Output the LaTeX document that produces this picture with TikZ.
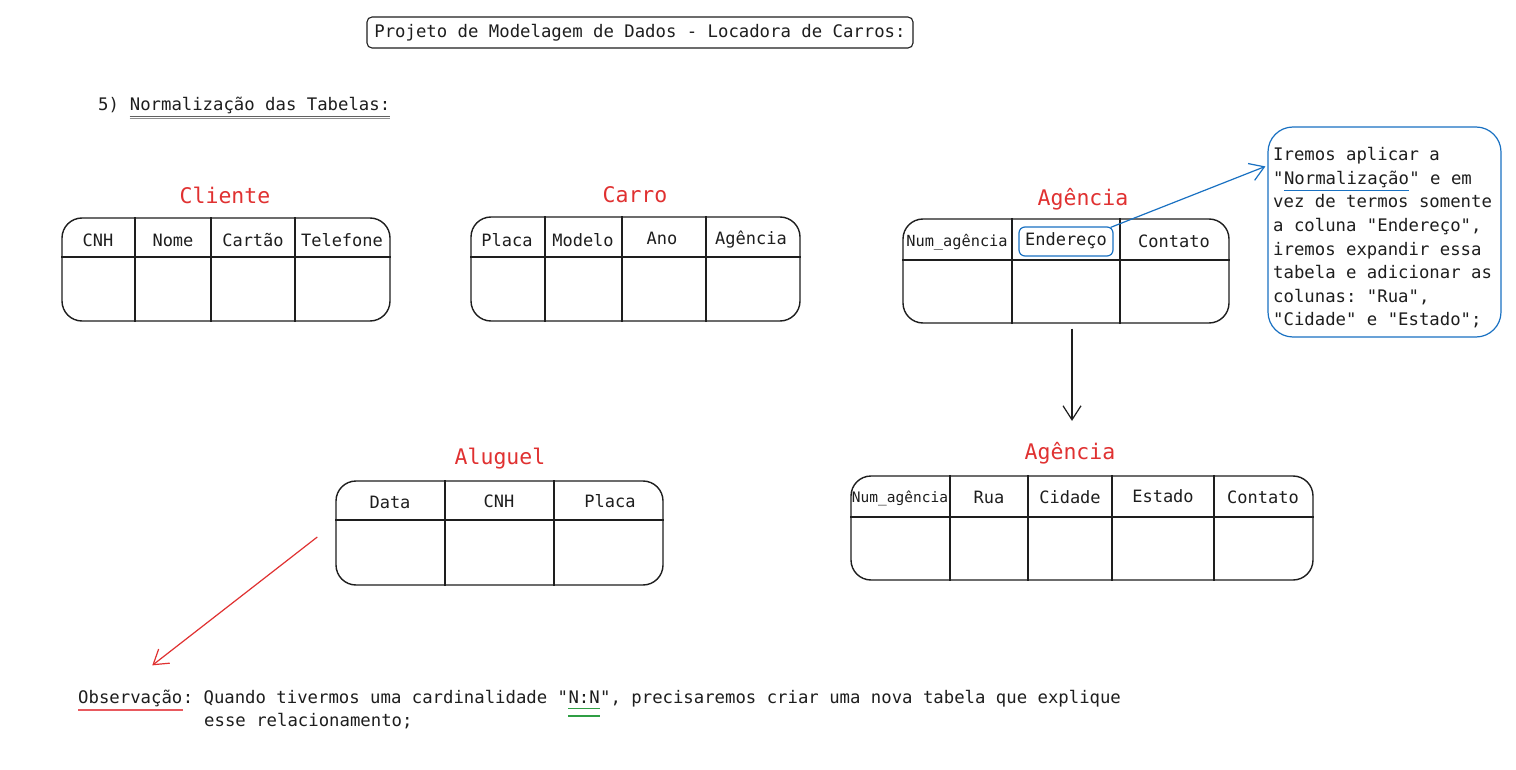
\documentclass[tikz,border=0pt]{standalone}
\usepackage{fontspec}
\setmonofont{DejaVu Sans Mono}
\renewcommand\familydefault{\ttdefault}
\usetikzlibrary{arrows.meta,calc}
\definecolor{exred}{HTML}{E03131}
\definecolor{exblue}{HTML}{1971C2}
\definecolor{exgreen}{HTML}{2F9E44}
\definecolor{ink}{HTML}{1E1E1E}
\definecolor{ulred}{HTML}{E8595E}
\tikzset{
 txt/.style={inner sep=0pt, font=\ttfamily\fontsize{17.3}{23.5}\selectfont, text=ink},
 hdr/.style={inner sep=0pt, font=\ttfamily\fontsize{17}{20}\selectfont, text=ink},
 hdrsmall/.style={inner sep=0pt, font=\ttfamily\fontsize{15.3}{18}\selectfont, text=ink},
 ttl/.style={inner sep=0pt, font=\ttfamily\fontsize{21.5}{24}\selectfont, text=exred},
 tbl/.style={draw=ink, line width=1.4pt, rounded corners=20pt, inner sep=0pt},
 gridline/.style={draw=ink, line width=1.2pt},
 arr/.style={-{Straight Barb[length=14pt,width=18pt]}, line width=1.2pt},
}
\begin{document}
\begin{tikzpicture}[x=1pt,y=-1pt]
\fill[white] (0,0) rectangle (1516,770);
\useasboundingbox (0,0) rectangle (1516,770);

% title
\node[txt, draw=ink, line width=1.1pt, rounded corners=5pt, minimum width=546pt, minimum height=31pt] (title) at (640,32.5) {Projeto de Modelagem de Dados - Locadora de Carros:};

% section heading
\node[txt, anchor=base west] (sec1) at (98,111) {5)};
\node[txt, anchor=base west] (sec2) at ([xshift=10.41pt]sec1.base east) {Normalização das Tabelas:};
\draw[ink!70, line width=0.9pt] ([yshift=-5pt]sec2.base west) -- ([yshift=-5pt]sec2.base east);
\draw[ink!50, line width=0.9pt] ([yshift=-7pt]sec2.base west) -- ([yshift=-7pt]sec2.base east);

% ---- Cliente
\node[ttl] (clit) at (225,195) {Cliente};
\node[tbl, minimum width=328pt, minimum height=103pt] (cli) at (226,269.5) {};
\draw[gridline] (cli.west |- 0,257) -- (cli.east |- 0,257);
\foreach \x in {135,211,295} \draw[gridline] (\x,0 |- cli.north) -- (\x,0 |- cli.south);
\node[hdr] at (98,240) {CNH};
\node[hdr] at (173,240) {Nome};
\node[hdr] at (253,240) {Cartão};
\node[hdr] at (342,240) {Telefone};

% ---- Carro
\node[ttl] (cart) at (635,195) {Carro};
\node[tbl, minimum width=329pt, minimum height=104pt] (car) at (635.5,269) {};
\draw[gridline] (car.west |- 0,257) -- (car.east |- 0,257);
\foreach \x in {545,622,706} \draw[gridline] (\x,0 |- car.north) -- (\x,0 |- car.south);
\node[hdr] at (507,240) {Placa};
\node[hdr] at (583,240) {Modelo};
\node[hdr] at (662,238) {Ano};
\node[hdr] at (751,240) {Agência};

% ---- Agencia (top)
\node[ttl] (agtt) at (1083,199) {Agência};
\node[tbl, minimum width=326pt, minimum height=104pt] (agt) at (1066,271) {};
\draw[gridline] (agt.west |- 0,260) -- (agt.east |- 0,260);
\foreach \x in {1012,1120} \draw[gridline] (\x,0 |- agt.north) -- (\x,0 |- agt.south);
\node[hdrsmall] at (957,242) {Num\_agência};
\node[hdr] (endt) at (1066,241) {Endereço};
\node[draw=exblue, line width=1.2pt, rounded corners=6pt, minimum width=94pt, minimum height=29pt, inner sep=0pt] (endbox) at (1066,241.5) {};
\node[hdr] at (1174,241) {Contato};

% callout
\node[draw=exblue, line width=1.2pt, rounded corners=25pt, minimum width=233pt, minimum height=210pt, inner sep=0pt] (call) at (1384.5,232) {};
\node[txt, anchor=base west] (c1) at (1273,161) {Iremos aplicar a};
\node[txt, anchor=base west] (c2a) at (1273,184.5) {"};
\node[txt, anchor=base west] (c2b) at (c2a.base east) {Normalização};
\node[txt, anchor=base west] (c2c) at (c2b.base east) {" e em};
\node[txt, anchor=base west] (c3) at (1273,208) {vez de termos somente};
\node[txt, anchor=base west] (c4) at (1273,231.5) {a coluna "Endereço",};
\node[txt, anchor=base west] (c5) at (1273,255) {iremos expandir essa};
\node[txt, anchor=base west] (c6) at (1273,278.5) {tabela e adicionar as};
\node[txt, anchor=base west] (c7) at (1273,302) {colunas: "Rua",};
\node[txt, anchor=base west] (c8) at (1273,325.5) {"Cidade" e "Estado";};
\draw[exblue, line width=1.1pt] ([yshift=-6pt]c2b.base west) -- ([yshift=-6pt]c2b.base east);

\draw[arr, exblue] ([xshift=-3pt,yshift=-1pt]endbox.north east) -- ([xshift=-2pt,yshift=-40pt]call.north west);

% ---- Agencia (bottom)
\node[ttl] (agbt) at (1070,453) {Agência};
\node[tbl, minimum width=462pt, minimum height=104pt] (agb) at (1082,528) {};
\draw[gridline] (agb.west |- 0,517) -- (agb.east |- 0,517);
\foreach \x in {950,1028,1112,1214} \draw[gridline] (\x,0 |- agb.north) -- (\x,0 |- agb.south);
\node[hdrsmall, font=\ttfamily\fontsize{14.5}{17}\selectfont] at (900,498) {Num\_agência};
\node[hdr] at (989,497) {Rua};
\node[hdr] at (1070,497) {Cidade};
\node[hdr] at (1163,496) {Estado};
\node[hdr] at (1263,497) {Contato};

\draw[arr, ink] ([xshift=6pt,yshift=-5pt]agt.south) -- ([xshift=2pt,yshift=21pt]agbt.north);

% ---- Aluguel
\node[ttl] (alut) at (500,459) {Aluguel};
\node[tbl, minimum width=327pt, minimum height=104pt] (alu) at (499.5,533) {};
\draw[gridline] (alu.west |- 0,520) -- (alu.east |- 0,520);
\foreach \x in {445,554} \draw[gridline] (\x,0 |- alu.north) -- (\x,0 |- alu.south);
\node[hdr] at (390,502) {Data};
\node[hdr] at (499,501) {CNH};
\node[hdr] at (610,501) {Placa};

% ---- Observacao
\node[txt, anchor=base west] (o1) at (78,703) {Observação};
\node[txt, anchor=base west] (o2) at (o1.base east) {:\ Quando tivermos uma cardinalidade\ "};
\node[txt, anchor=base west] (o3) at (o2.base east) {N:N};
\node[txt, anchor=base west] (o4) at (o3.base east) {",\ precisaremos criar uma nova tabela que explique};
\node[txt, anchor=base west] (o5) at (204,726.5) {esse relacionamento;};
\draw[ulred, line width=2.4pt] ([yshift=-7pt]o1.base west) -- ([yshift=-7pt]o1.base east);
\draw[exgreen, line width=1.3pt] ([yshift=-5.5pt]o3.base west) -- ([yshift=-5.5pt]o3.base east);
\draw[exgreen, line width=1.3pt] ([yshift=-13pt]o3.base west) -- ([yshift=-13pt]o3.base east);

\draw[arr, exred] ([xshift=-18pt,yshift=-4pt]alu.west) -- ([xshift=22pt,yshift=24pt]o1.north);
\end{tikzpicture}
\end{document}
